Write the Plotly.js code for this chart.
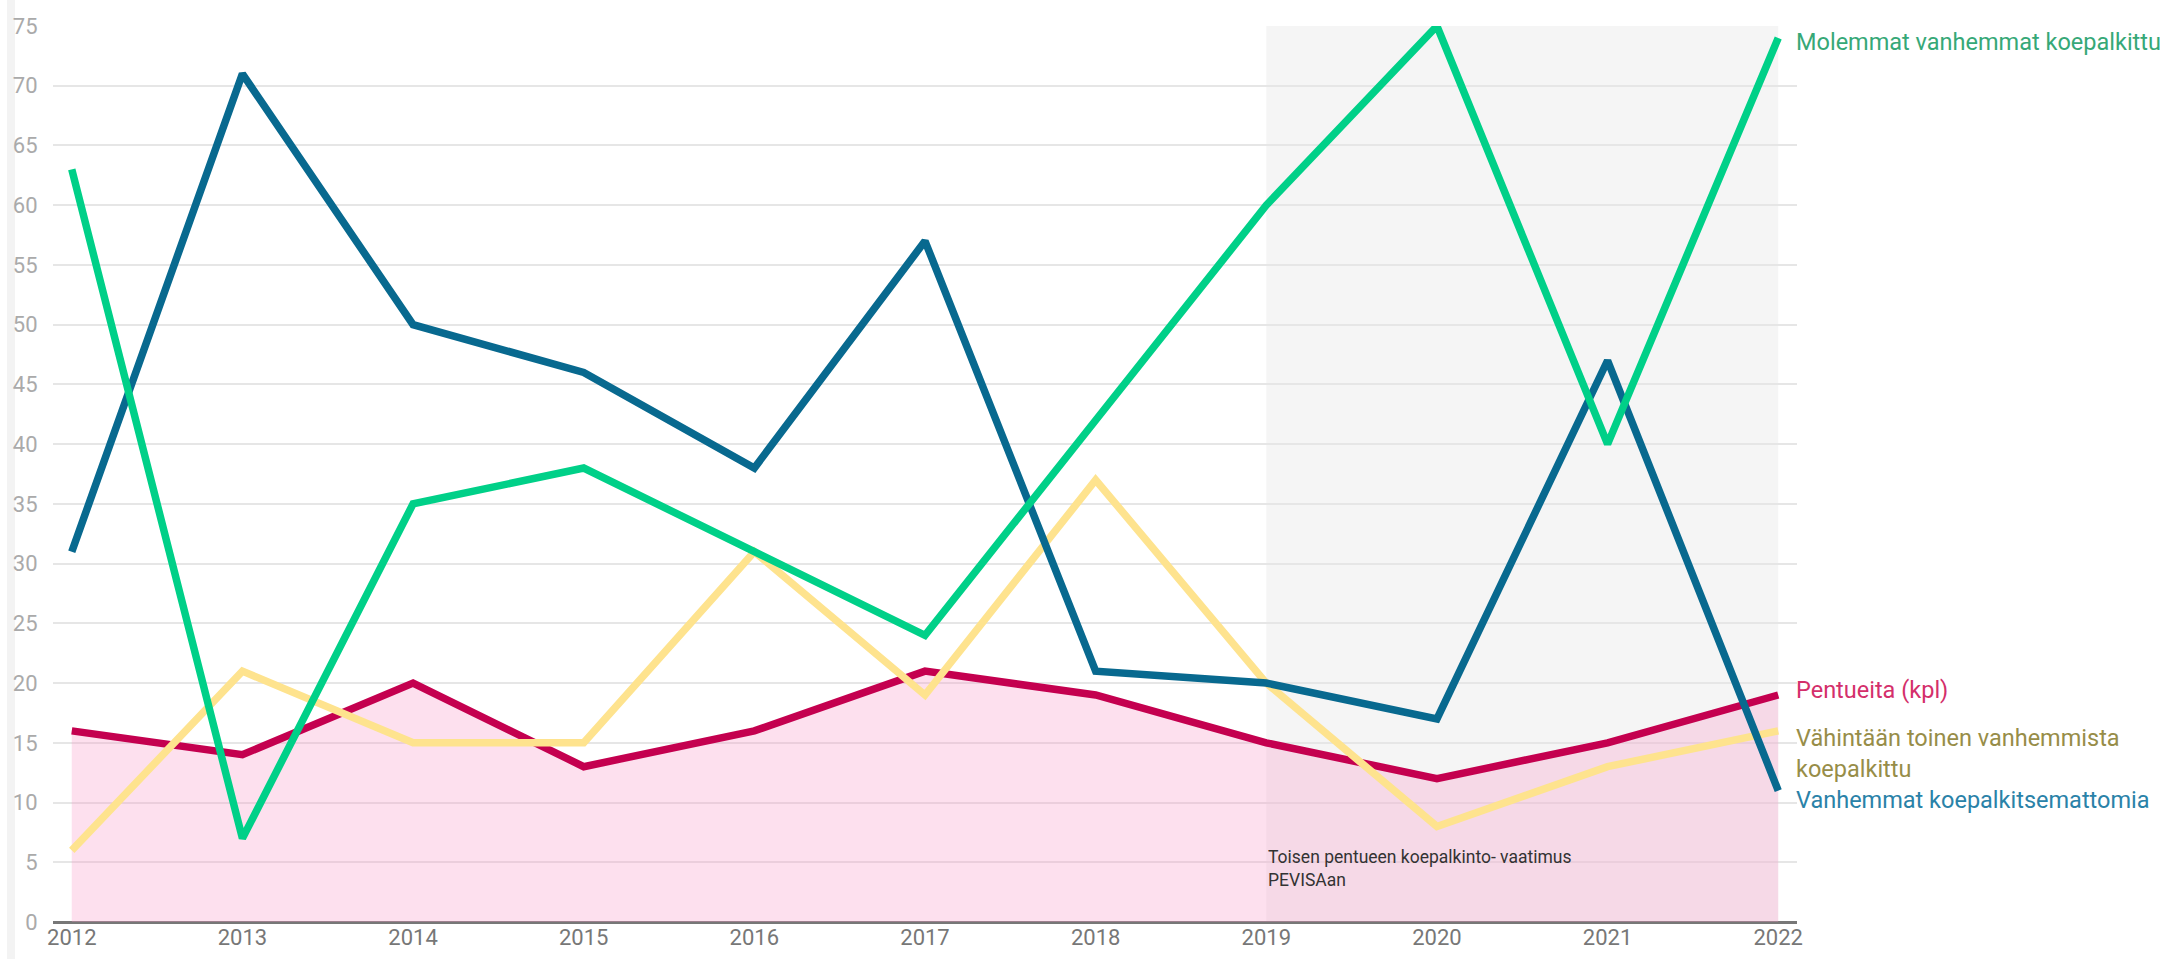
<!DOCTYPE html>
<html>
<head>
<meta charset="utf-8">
<script src="https://cdn.plot.ly/plotly-3.0.1.min.js"></script>
<style>
  html, body { margin: 0; padding: 0; background: #ffffff; }
  #chart { width: 2173px; height: 959px; }
</style>
</head>
<body>
<div id="chart"></div>
<script>
const years = [2012, 2013, 2014, 2015, 2016, 2017, 2018, 2019, 2020, 2021, 2022];
const molemmat = [63, 7, 35, 38, 31, 24, 42, 60, 75, 40, 74];
const koepalkitsemattomia = [31, 71, 50, 46, 38, 57, 21, 20, 17, 47, 11];
const vahintaan = [6, 21, 15, 15, 31, 19, 37, 20, 8, 13, 16];
const pentueita = [16, 14, 20, 13, 16, 21, 19, 15, 12, 15, 19];
const yTicks = [0, 5, 10, 15, 20, 25, 30, 35, 40, 45, 50, 55, 60, 65, 70, 75];
const seriesNames = {
  pentueita: 'Pentueita (kpl)',
  vahintaan: 'Vähintään toinen vanhemmista<br>koepalkittu',
  koepalkitsemattomia: 'Vanhemmat koepalkitsemattomia',
  molemmat: 'Molemmat vanhemmat koepalkittu'
};
const noteText = 'Toisen pentueen koepalkinto- vaatimus<br>PEVISAan';
const bandStart = 2019, bandEnd = 2022;

const traces = [
  { x: years, y: pentueita, type: 'scatter', mode: 'lines', fill: 'tozeroy',
    fillcolor: 'rgba(248,152,198,0.30)',
    line: { color: '#c4004f', width: 7.5 }, name: 'Pentueita (kpl)', hoverinfo: 'x+y' },
  { x: years, y: vahintaan, type: 'scatter', mode: 'lines',
    line: { color: '#fee38e', width: 7.5 }, name: 'Vähintään', hoverinfo: 'x+y' },
  { x: years, y: koepalkitsemattomia, type: 'scatter', mode: 'lines',
    line: { color: '#08698f', width: 7.5 }, name: 'Koepalkitsemattomia', hoverinfo: 'x+y' },
  { x: years, y: molemmat, type: 'scatter', mode: 'lines',
    line: { color: '#00d088', width: 7.5 }, name: 'Molemmat', hoverinfo: 'x+y' }
];

const last = years.length - 1;
const labelFont = { family: 'Roboto, sans-serif', size: 23.5 };
const annotations = [
  { x: years[last], y: molemmat[last], text: seriesNames.molemmat, xref: 'x', yref: 'y',
    xanchor: 'left', yanchor: 'middle', xshift: 16, yshift: -4, showarrow: false, align: 'left',
    font: Object.assign({}, labelFont, { color: '#36a877' }) },
  { x: years[last], y: pentueita[last], text: seriesNames.pentueita, xref: 'x', yref: 'y',
    xanchor: 'left', yanchor: 'middle', xshift: 16, yshift: 5, showarrow: false, align: 'left',
    font: Object.assign({}, labelFont, { color: '#d42f6b' }) },
  { x: years[last], y: vahintaan[last], text: seriesNames.vahintaan, xref: 'x', yref: 'y',
    xanchor: 'left', yanchor: 'top', xshift: 16, yshift: 9, showarrow: false, align: 'left',
    font: Object.assign({}, labelFont, { color: '#978d48' }) },
  { x: years[last], y: koepalkitsemattomia[last], text: seriesNames.koepalkitsemattomia, xref: 'x', yref: 'y',
    xanchor: 'left', yanchor: 'middle', xshift: 16, yshift: -9, showarrow: false, align: 'left',
    font: Object.assign({}, labelFont, { color: '#2a82a8' }) },
  { x: bandStart, y: 0, text: noteText, xref: 'x', yref: 'y',
    xanchor: 'left', yanchor: 'bottom', xshift: 0, yshift: 30, showarrow: false, align: 'left',
    font: { family: 'Roboto, sans-serif', size: 17.5, color: '#333333' } }
];

const shapes = [
  { type: 'rect', xref: 'x', yref: 'y', x0: bandStart, x1: bandEnd, y0: 0, y1: 75,
    fillcolor: '#f5f5f5', line: { width: 0 }, layer: 'below' },
  { type: 'rect', xref: 'paper', yref: 'paper', x0: -0.0264, x1: -0.0218, y0: -0.05, y1: 1.05,
    fillcolor: '#f3f3f3', line: { width: 0 }, layer: 'below' }
];

const layout = {
  width: 2173, height: 959,
  margin: { l: 53, r: 376, t: 26, b: 37, pad: 0 },
  paper_bgcolor: '#ffffff', plot_bgcolor: 'rgba(0,0,0,0)',
  showlegend: false,
  font: { family: 'Roboto, sans-serif' },
  xaxis: {
    range: [2011.89, 2022.11], tickvals: years, ticktext: years.map(String),
    showgrid: false, zeroline: false, showline: false,
    tickfont: { size: 22, color: '#777777' }, ticks: '', ticklen: 0
  },
  yaxis: {
    range: [0, 75], tickvals: yTicks, showgrid: true, gridcolor: '#e6e6e6', gridwidth: 1.5,
    zeroline: true, zerolinecolor: '#777777', zerolinewidth: 3,
    tickfont: { size: 22, color: '#aaaaaa' }, ticks: 'outside', ticklen: 10, tickcolor: 'rgba(0,0,0,0)'
  },
  shapes: shapes,
  annotations: annotations
};

Plotly.newPlot('chart', traces, layout, { displayModeBar: false, responsive: false });
</script>
</body>
</html>
